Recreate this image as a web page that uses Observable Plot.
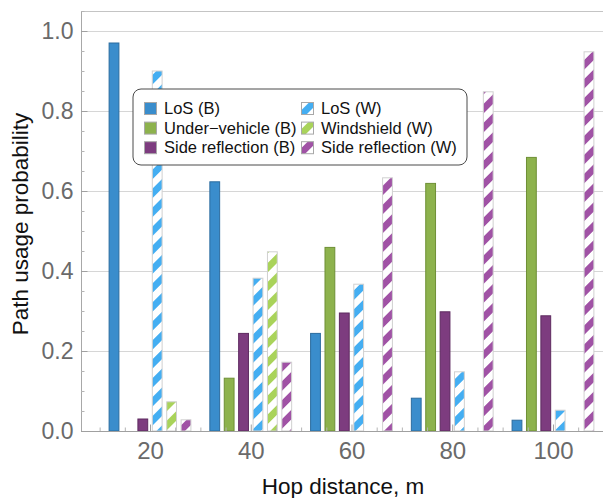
<!DOCTYPE html>
<html>
<head>
<meta charset="utf-8">
<script src="https://cdn.jsdelivr.net/npm/d3@7"></script>
<script src="https://cdn.jsdelivr.net/npm/@observablehq/plot@0.6"></script>
<style>
  html, body { margin: 0; padding: 0; background: white; }
  #chart { position: relative; width: 603px; height: 498px; }
</style>
</head>
<body>
<div id="chart"></div>
<script>
// ---- data ----
const hops = [20, 40, 60, 80, 100];
const seriesNames = ["LoS (B)", "Under\u2212vehicle (B)", "Side reflection (B)", "LoS (W)", "Windshield (W)", "Side reflection (W)"];
const losB   = [0.970, 0.623, 0.244, 0.082, 0.027];
const underB = [0.000, 0.132, 0.459, 0.619, 0.684];
const sideB  = [0.030, 0.244, 0.295, 0.298, 0.288];
const losW   = [0.900, 0.382, 0.367, 0.148, 0.052];
const windW  = [0.073, 0.448, 0.000, 0.000, 0.000];
const sideW  = [0.028, 0.172, 0.633, 0.848, 0.948];
const yTicks = [0, 0.2, 0.4, 0.6, 0.8, 1.0];

// ---- styles ----
const colors = ["#3a8dcc", "#8db24d", "#7d3c7f", "#44aef2", "#a9d35a", "#a052a5"];
const strokes = ["#2b6c9f", "#6e8f35", "#5e2a60", "#d0d0d0", "#d0d0d0", "#d0d0d0"];
const patternIds = [null, null, null, "pLosW", "pWindW", "pSideW"];
const values = [losB, underB, sideB, losW, windW, sideW];

const W = 603, H = 498;
const xDomain = [6.3, 109.93];
const yDomain = [0, 1.05];
const mL = 81, mR = 0, mT = 11, mB = 67;
const pxX = (xDomain[1] - xDomain[0]) / (W - mL - mR);
const pxY = (yDomain[1] - yDomain[0]) / (H - mT - mB);
const spacing = 14.4 * pxX, barW = 9.8 * pxX;

const bars = [];
values.forEach((vals, s) => {
  vals.forEach((v, i) => {
    const c = hops[i] + (s - 2.5) * spacing;
    bars.push({s, hop: hops[i], v, x1: c - barW / 2, x2: c + barW / 2});
  });
});

const minorY = d3.range(0, 1.0501, 0.05).filter(v => Math.abs(v * 5 - Math.round(v * 5)) > 1e-6);
const minorX = d3.range(10, 110, 5).filter(v => v % 20 !== 0);

const marks = [
  Plot.gridY([0.2, 0.4, 0.6, 0.8, 1.0], {stroke: "#d6d6d6", strokeOpacity: 1}),
  Plot.ruleY([yDomain[1]], {stroke: "#c4c4c4"}),
];
values.forEach((vals, s) => {
  marks.push(Plot.rectY(bars.filter(b => b.s === s && b.v > 0), {
    x1: "x1", x2: "x2", y1: 0, y2: "v",
    fill: patternIds[s] ? `url(#${patternIds[s]})` : colors[s],
    stroke: strokes[s], strokeWidth: 1, inset: 0
  }));
});
marks.push(
  Plot.ruleX([xDomain[0]], {stroke: "#a8a8a8"}),
  Plot.ruleY([0], {stroke: "#a0a0a0"}),
  Plot.ruleY(yTicks, {x1: xDomain[0], x2: xDomain[0] + 6.5 * pxX, stroke: "#a0a0a0"}),
  Plot.ruleY(minorY, {x1: xDomain[0], x2: xDomain[0] + 3.5 * pxX, stroke: "#b4b4b4"}),
  Plot.ruleX(hops, {y1: 0, y2: 6.5 * pxY, stroke: "#a0a0a0"}),
  Plot.ruleX(minorX, {y1: 0, y2: 3.5 * pxY, stroke: "#b4b4b4"}),
  Plot.axisY({ticks: yTicks, tickSize: 0, tickPadding: 8, tickFormat: d3.format(".1f"), fontSize: 23, fill: "#6a6a6a", label: null}),
  Plot.axisX({ticks: hops, tickSize: 0, tickPadding: 10, tickFormat: d3.format("d"), fontSize: 24, fill: "#6a6a6a", label: null})
);

const plot = Plot.plot({
  width: W, height: H,
  marginLeft: mL, marginRight: mR, marginTop: mT, marginBottom: mB,
  style: {fontFamily: "'Liberation Sans', Arial, sans-serif", background: "white", overflow: "visible"},
  x: {type: "linear", domain: xDomain},
  y: {domain: yDomain},
  marks
});

// patterns
const svg = d3.select(plot);
const defs = svg.insert("defs", ":first-child");
const per = 13.4;
[3, 4, 5].forEach(s => {
  const p = defs.append("pattern").attr("id", patternIds[s])
    .attr("patternUnits", "userSpaceOnUse").attr("width", per).attr("height", per)
    .attr("patternTransform", "rotate(45)");
  p.append("rect").attr("width", per).attr("height", per).attr("fill", "white");
  p.append("rect").attr("width", per / 2).attr("height", per).attr("fill", colors[s]);
});

// axis titles
svg.append("text").text("Hop distance, m")
  .attr("x", 343).attr("y", 494).attr("text-anchor", "middle")
  .attr("font-size", 22.5).attr("fill", "#111");
svg.append("text").text("Path usage probability")
  .attr("transform", "translate(28,224) rotate(-90)").attr("text-anchor", "middle")
  .attr("font-size", 22.5).attr("fill", "#111");

// legend
const lg = svg.append("g").attr("transform", "translate(133,89)").attr("text-anchor", "start");
lg.append("rect").attr("width", 334).attr("height", 76).attr("rx", 8)
  .attr("fill", "white").attr("stroke", "#4a4a4a").attr("stroke-width", 1);
seriesNames.forEach((name, s) => {
  const col = Math.floor(s / 3), row = s % 3;
  const gx = col === 0 ? 11 : 168, gy = 13 + row * 19.6;
  lg.append("rect").attr("x", gx + 0.5).attr("y", gy + 0.5).attr("width", 12).attr("height", 12)
    .attr("fill", patternIds[s] ? `url(#${patternIds[s]})` : colors[s])
    .attr("stroke", "#a8a8a8");
  lg.append("text").text(name).attr("x", gx + 20).attr("y", gy + 12)
    .attr("text-anchor", "start")
    .attr("font-size", 16.5).attr("fill", "#111");
});

document.getElementById("chart").appendChild(plot);
</script>
</body>
</html>
